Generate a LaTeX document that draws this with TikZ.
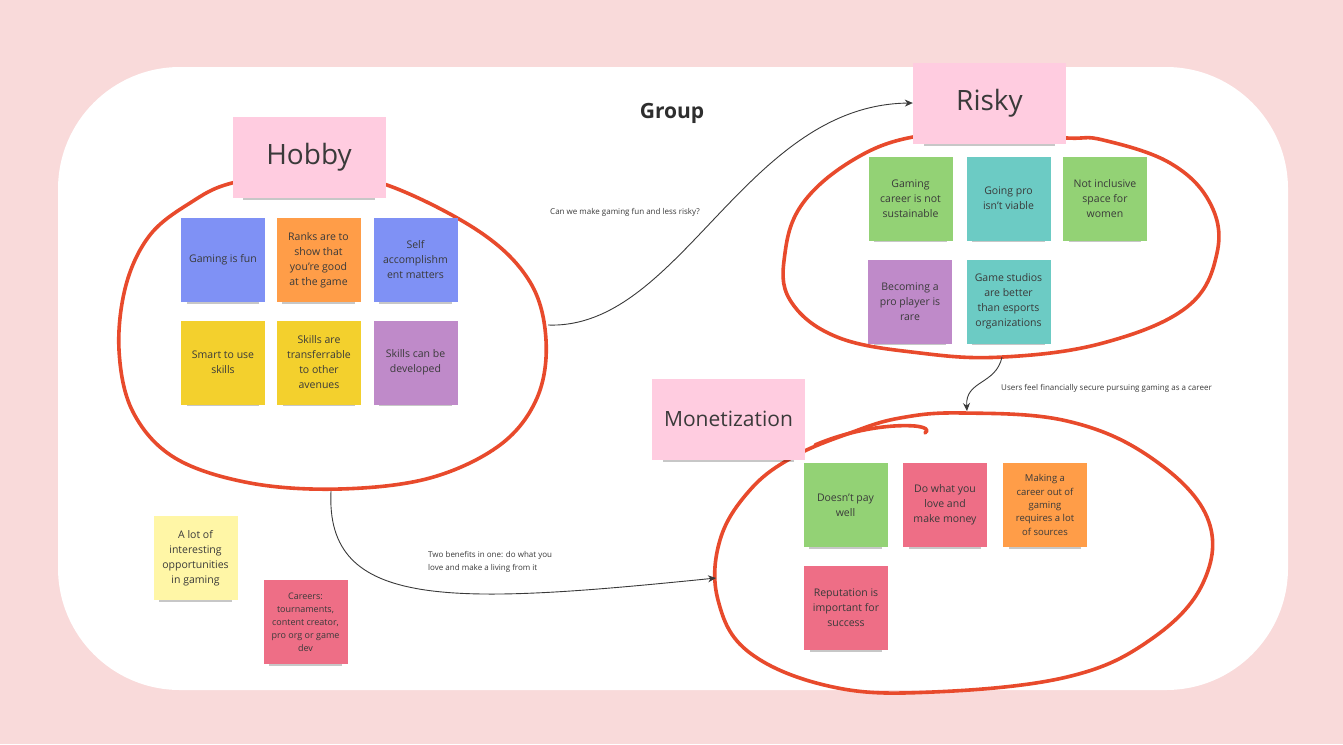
\documentclass[tikz,border=0pt]{standalone}
\usepackage{fontspec}
\setmainfont{Open Sans}
\usetikzlibrary{shapes.geometric,arrows.meta,shadows}
\definecolor{bgpink}{HTML}{F9DADA}
\definecolor{lblpink}{HTML}{FFCCE0}
\definecolor{cblue}{HTML}{7F91F5}
\definecolor{corange}{HTML}{FF9D48}
\definecolor{cyellow}{HTML}{F3D02D}
\definecolor{cpurple}{HTML}{BF8AC9}
\definecolor{cgreen}{HTML}{93D275}
\definecolor{cteal}{HTML}{6CCBC4}
\definecolor{cred}{HTML}{EE6E86}
\definecolor{clyellow}{HTML}{FFF6A6}
\definecolor{ink}{HTML}{3A3A3A}
\definecolor{marker}{HTML}{E84A2C}
\begin{document}
\begin{tikzpicture}[x=1pt,y=-1pt,
  shadowed/.style={drop shadow={shadow xshift=0pt,shadow yshift=-9pt,shadow scale=0.86,opacity=0.22,fill=black}},
  note/.style={shadowed,minimum width=84pt,minimum height=84pt,inner sep=2pt,align=center,text=ink,
    font=\fontsize{10.5}{15}\selectfont},
  smallnote/.style={note,font=\fontsize{9.5}{13.3}\selectfont},
  lblbox/.style={shadowed,fill=lblpink,minimum width=153pt,minimum height=81pt,inner sep=0pt,text=ink},
  redline/.style={draw=marker,line width=3.6pt,line cap=round,line join=round},
  conn/.style={draw=ink,line width=0.9pt,-{Stealth[length=8pt,width=7pt]}},
  captext/.style={text=ink,font=\fontsize{8}{13.5}\selectfont,inner sep=0pt}]
\useasboundingbox (0,0) rectangle (1343,744);
\fill[bgpink] (0,0) rectangle (1343,744);
\fill[white,rounded corners=122pt] (58,67) rectangle (1288,690);

% hand-drawn loops
\draw[redline] plot[smooth cycle,tension=0.6] coordinates {
  (232,183) (190,203) (150,235) (126,285) (119,350) (133,412) (175,458) (250,483)
  (340,489) (430,478) (500,445) (537,398) (546,340) (530,282) (480,232) (387,185) (310,172)};
\draw[redline] plot[smooth cycle,tension=0.65] coordinates {
  (913,137) (853,160) (803,203) (785,253) (790,300) (837,337) (920,353) (1003,357)
  (1103,343) (1187,307) (1217,253) (1210,203) (1170,163) (1103,140) (1067,138) (990,134)};
\draw[redline] plot[smooth cycle,tension=0.65] coordinates {
  (963,413) (1067,421) (1150,457) (1207,517) (1203,583) (1150,640) (1067,677) (933,692)
  (833,687) (750,653) (718,600) (720,540) (750,490) (793,457) (850,433) (900,418)};
\draw[redline] (815,445) .. controls (850,430) and (890,424) .. (915,426)
  .. controls (925,427) and (930,430) .. (925,433);

\coordinate (hobbyOut) at (548,325);
\coordinate (hobbyDown) at (331,491);
\coordinate (riskyDown) at (1002,357);
\coordinate (moneyLeft) at (716,578);
\coordinate (moneyTop) at (967,411);

% labels
\node[lblbox,font=\fontsize{28}{30}\selectfont] (hobby) at (309,157) {Hobby};
\node[lblbox,font=\fontsize{28}{30}\selectfont] (risky) at (989.5,103) {Risky};
\node[lblbox,font=\fontsize{21}{24}\selectfont] (money) at (728.5,419) {Monetization};
\node[text=ink!80!black,font=\bfseries\fontsize{21}{24}\selectfont] (group) at (672,113) {Group};

% Hobby notes
\node[note,fill=cblue] (h1) at (223,260) {Gaming is fun};
\node[note,fill=corange] (h2) at (318.5,260) {Ranks are to\\show that\\you're good\\at the game};
\node[note,fill=cblue] (h3) at (415.5,260) {Self\\accomplishm\\ent matters};
\node[note,fill=cyellow] (h4) at (223,362.5) {Smart to use\\skills};
\node[note,fill=cyellow] (h5) at (319,362.5) {Skills are\\transferrable\\to other\\avenues};
\node[note,fill=cpurple] (h6) at (415.5,362.5) {Skills can be\\developed};

% Risky notes
\node[note,fill=cgreen] (r1) at (910.5,198.5) {Gaming\\career is not\\sustainable};
\node[note,fill=cteal] (r2) at (1008.5,198.5) {Going pro\\isn't viable};
\node[note,fill=cgreen] (r3) at (1105,198.5) {Not inclusive\\space for\\women};
\node[note,fill=cpurple] (r4) at (910,301.5) {Becoming a\\pro player is\\rare};
\node[note,fill=cteal] (r5) at (1008.5,301.5) {Game studios\\are better\\than esports\\organizations};

% Monetization notes
\node[note,fill=cgreen] (m1) at (845.5,505) {Doesn't pay\\well};
\node[note,fill=cred] (m2) at (945,505) {Do what you\\love and\\make money};
\node[smallnote,fill=corange] (m3) at (1045,505) {Making a\\career out of\\gaming\\requires a lot\\of sources};
\node[note,fill=cred] (m4) at (846,608) {Reputation is\\important for\\success};

% loose notes
\node[note,fill=clyellow] (o1) at (195.5,558) {A lot of\\interesting\\opportunities\\in gaming};
\node[smallnote,fill=cred,font=\fontsize{9}{13}\selectfont] (o2) at (305.5,622) {Careers:\\tournaments,\\content creator,\\pro org or game\\dev};

% connectors
\draw[conn] (hobbyOut) .. controls (680,330) and (745,105) .. (risky.west);
\node[captext,anchor=west] (c1) at (550,212) {Can we make gaming fun and less risky?};
\draw[conn] (hobbyDown) .. controls (325,610) and (450,605) .. (moneyLeft);
\node[captext,anchor=north west,align=left] (c2) at (428,551) {Two benefits in one: do what you\\love and make a living from it};
\draw[conn] (riskyDown) .. controls (996,385) and (965,380) .. (moneyTop);
\node[captext,anchor=west] (c3) at (1001,388) {Users feel financially secure pursuing gaming as a career};
\end{tikzpicture}
\end{document}
